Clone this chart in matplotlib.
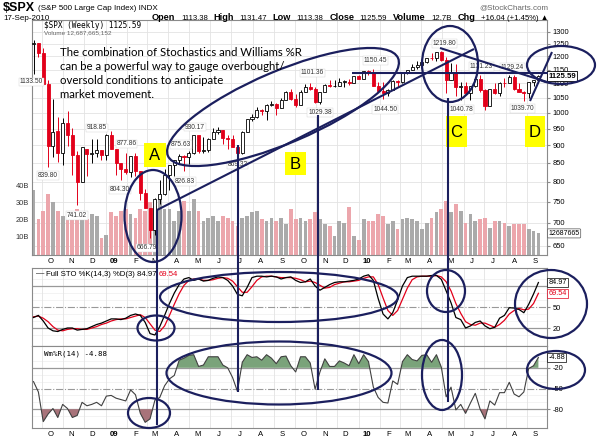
import matplotlib
matplotlib.use('Agg')
import matplotlib.pyplot as plt
import matplotlib.dates as mdates
import matplotlib.transforms as mtrans
from matplotlib.patches import Ellipse, Rectangle
import numpy as np
import pandas as pd

# ---------------- data ----------------
week_end = pd.date_range('2008-09-19', periods=105, freq='W-FRI')

opens = [1251,1255,1213,1099,899,941,877,968,930,873,
         800,889,876,879,887,872,931,890,850,832,
         826,868,827,770,735,683,756,768,816,843,
         857,870,866,877,929,882,887,919,940,946,
         921,918,896,879,940,979,987,1010,1005,1026,
         1029,1016,1042,1068,1044,1025,1071,1087,1080,1036,
         1069,1093,1091,1091,1106,1106,1102,1126,1115,1145,
         1136,1092,1074,1066,1075,1109,1104,1139,1150,1160,
         1167,1179,1194,1192,1217,1187,1111,1136,1087,1089,
         1065,1092,1117,1076,1022,1078,1065,1102,1101,1121,
         1079,1071,1065,1105,1113.38]
highs = [1265,1255,1233,1112,1044,985,984,1007,951,882,
         896,889,918.85,917,887,934,943,890,850,877,
         870,877.86,827,780,735,758,804,832,845,857,
         875.63,871,882,930.17,929,924,920,951,956,946,
         930,931,898,943,979,996,1018,1013,1027,1039,
         1031,1049,1074,1080,1063,1076,1096,1101.36,1085,1071,
         1097,1113,1111,1119,1110,1117,1127,1130,1145,1150,
         1150.45,1104,1104,1080,1112,1113,1139,1150,1170,1181,
         1182,1194,1213,1217,1219.8,1197,1174,1170,1104,1106,
         1092,1121,1131.23,1079,1078,1100,1103,1120,1128,1129.24,
         1100,1074,1105,1110,1131.47]
lows = [1133.5,1197,1099,839.8,865,852,845,899,818,741.02,
        799,815,851,866,857,857,888,818,804.3,821,
        812,814,754,734,666.79,672,743,767,779,814,
        848,826.83,847,875,878,879,880,918,934,903,
        888,896,869.32,875,940,972,982,991,978,1022,
        991,1016,1042,1042,1020,1025,1070,1075,1033,1029.38,
        1069,1085,1086,1091,1086,1095,1102,1115,1115,1131,
        1091,1071,1044.5,1056,1075,1086,1101,1132,1147,1153,
        1165,1175,1186,1183,1182,1065,1111,1056,1040.78,1064,
        1043,1088,1071,1010,1022,1064,1056,1088,1101,1076,
        1069,1039.7,1049,1091,1113.38]
closes = [1255,1213,1099,899,940,877,968,930,873,800,
          896,876,879,887,872,931,890,850,832,826,
          868,827,770,735,683,756,768,816,843,857,
          870,866,877,929,882,887,919,940,946,921,
          918,896,879,940,979,987,1010,1005,1026,1029,
          1016,1042,1068,1044,1025,1071,1087,1080,1036,1069,
          1093,1091,1091,1106,1106,1102,1126,1115,1145,1136,
          1092,1074,1066,1075,1109,1104,1139,1150,1160,1167,
          1179,1194,1192,1217,1187,1111,1136,1087,1089,1065,
          1092,1117,1076,1022,1078,1065,1102,1101,1121,1079,
          1071,1065,1105,1110,1125.59]
prev_close = 1251.7
volume_b = [38,21,26,36,31,26,23,25,23,27,
            21,21,24,23,10,12,25,23,26,27,
            24,22,27,26,31,29,33,27,27,20,
            26,32,26,33,26,20,22,23,20,23,
            22,20,17,22,23,25,26,21,20,22,
            20,22,18,27,21,22,20,21,25,21,
            18,17,11,20,19,28,11,9,21,20,
            20,24,23,18,20,15,21,22,21,20,
            15,19,22,25,27,32,25,30,26,19,
            24,20,21,22,16,20,20,19,17,18,
            18,18,15,14,12.69]
sto_k = [35,38,30,20,16,15,18,20,20,17,
         18,19,22,25,27,30,33,33,32,34,
         38,40,38,28,12,10,22,38,55,70,
         82,90,92,88,90,87,88,91,93,92,
         88,80,68,66,78,92,94,94,93,94,
         93,90,92,93,88,85,86,90,80,74,
         78,82,85,86,86,87,88,90,94,96,
         88,62,40,33,42,60,80,92,94,94,
         94,94,95,95,89.5,73,56,35,32,20,
         23,28,30,23,19,21,34,38,49,48.5,
         46.5,41.8,53.8,68.6,84.97]
sto_d = [36,37,34,29,22,17,16,18,19,19,
         18,18,20,22,25,27,30,32,33,33,
         35,37,39,35,26,17,15,23,38,54,
         69,81,88,90,90,88,88,89,91,92,
         91,87,79,71,71,79,88,93,94,94,
         93,92,92,92,91,89,86,87,85,81,
         77,78,82,84,86,86,87,88,91,93,
         93,82,63,45,38,45,61,77,89,93,
         94,94,94,95,93,86,73,55,41,29,
         25,24,27,27,24,21,25,31,40,45,
         48,46,47,55,69.54]
wpr = [-40,-55,-98,-87,-79,-92,-73,-79,-92,-89,
       -70,-75,-73,-70,-75,-61,-60,-64,-66,-68,
       -52,-59,-86,-99,-94,-67,-63,-46,-36,-31,
       -9,-6,-2,-1,-18,-16,-4,-4,-4,-16,
       -20,-34,-54,-12,-1,-5,-4,-9,-1,-6,
       -14,-4,-3,-17,-26,-4,-4,-13,-51,-26,
       -7,-18,-18,-10,-13,-17,-1,-14,-1,-11,
       -48,-63,-70,-71,-39,-44,-11,-1,-8,-10,
       -2,-1,-12,-1,-19,-62,-48,-81,-73,-86,
       -71,-57,-80,-94,-68,-74,-56,-56,-41,-58,
       -62,-55,-21,-17,-4.88]
month_labels = ['O','N','D','09','F','M','A','M','J','J','A','S',
                'O','N','D','10','F','M','A','M','J','J','A','S']
price_ticks = [650,700,750,800,850,900,950,1000,1050,1100,1150,1200,1250,1300]
volume_ticks = [10,20,30,40]
# (candle index, label, 'H' = at high / 'L' = at low, dx px, dy px)
price_notes = [(0,'1133.50','L',-2,8),(3,'839.80','L',0,9),(9,'741.02','L',0,10),
               (12,'918.85','H',5,-11),(21,'877.86','H',-9,-9),(18,'804.30','L',-1,10),
               (24,'666.79','L',-3,10),(31,'826.83','L',1,10),(30,'875.63','H',2,-9),
               (33,'930.17','H',1,-8),(42,'869.32','L',0,9),(57,'1101.36','H',2,-10),
               (59,'1029.38','L',0,9),(70,'1150.45','H',2,-9),(72,'1044.50','L',2,10),
               (84,'1219.80','H',3,-8),(88,'1040.78','L',1,9),(92,'1131.23','H',1,-8),
               (99,'1129.24','H',-2,-8),(101,'1039.70','L',-1,8)]

# ---------------- figure ----------------
W, H = 600, 443
fig = plt.figure(figsize=(6, 4.43), dpi=100, facecolor='white')

def rect(x0, y0, x1, y1):
    return [x0 / W, 1 - y1 / H, (x1 - x0) / W, (y1 - y0) / H]

RED = '#e2001a'
PINK = '#eca6ac'
GRAY = '#aaaaaa'
GRID = '#e3e3e3'
AXC = '#8a8a8a'
NAVY = '#1b1f5e'
SANS = 'Liberation Sans'

xd = mdates.date2num(week_end)
xlim = (xd[0] - 2.2, xd[-1] + 12.4)
month_starts = mdates.date2num(pd.date_range('2008-10-01', '2010-09-01', freq='MS'))
label_pos = month_starts + 12

O = np.array(opens, float); Hh = np.array(highs, float)
L = np.array(lows, float); C = np.array(closes, float)
prevC = np.concatenate([[prev_close], C[:-1]])
down = C < prevC
col = np.where(down, RED, 'black')

def style_axes(ax):
    for s in ax.spines.values():
        s.set_color(AXC); s.set_linewidth(0.8)
    ax.set_xlim(*xlim)
    ax.set_xticks(month_starts)
    ax.set_xticklabels([])
    ax.tick_params(axis='x', which='major', length=0)
    ax.grid(True, axis='x', which='major', color=GRID, lw=0.6, zorder=0)
    ax.set_axisbelow(True)

def month_axis(ax, show):
    ax.set_xticks(label_pos, minor=True)
    if show:
        ax.set_xticklabels(month_labels, minor=True)
        for t in ax.get_xticklabels(minor=True):
            t.set_fontsize(5.6); t.set_family(SANS)
            if t.get_text().isdigit():
                t.set_fontweight('bold')
    else:
        ax.set_xticklabels([], minor=True)
    ax.tick_params(axis='x', which='minor', length=0, pad=2)

# ---- price + volume panel ----
ax_p = fig.add_axes(rect(32, 20, 547, 255))
style_axes(ax_p)
ax_p.set_yscale('log')
ax_p.set_ylim(630.8, 1350)
ax_p.set_autoscale_on(False)
ax_p.yaxis.tick_right()
ax_p.yaxis.set_minor_locator(plt.NullLocator())
ax_p.set_yticks(price_ticks)
ax_p.set_yticklabels([str(v) for v in price_ticks])
ax_p.tick_params(axis='y', labelsize=5.4, length=2, color=AXC, pad=2)
for t in ax_p.get_yticklabels():
    t.set_family(SANS)
ax_p.grid(True, axis='y', which='major', color=GRID, lw=0.6)
month_axis(ax_p, True)

VMAX = 138.0
vt = mtrans.blended_transform_factory(ax_p.transData, ax_p.transAxes)
for x, v, d in zip(xd, volume_b, down):
    ax_p.add_patch(Rectangle((x - 2.7, 0), 5.4, v / VMAX, transform=vt,
                             fc=PINK if d else GRAY, ec='none', zorder=1))
lt = mtrans.blended_transform_factory(ax_p.transAxes, ax_p.transAxes)
for v in volume_ticks:
    ax_p.text(-0.006, v / VMAX, f'{v}B', transform=lt, ha='right', va='center',
              fontsize=5.4, family=SANS, color='#333333')

ax_p.vlines(xd, L, Hh, colors=col, lw=0.7, zorder=3)
body_bot = np.minimum(O, C)
body_h = np.maximum(np.abs(C - O), 0.8)
face = [c if cl < op else 'white' for c, op, cl in zip(col, O, C)]
ax_p.bar(xd, body_h, bottom=body_bot, width=4.4, color=face, edgecolor=col,
         linewidth=0.6, zorder=4)

for i, txt, where, dx, dy in price_notes:
    yv = Hh[i] if where == 'H' else L[i]
    ax_p.annotate(txt, (xd[i], yv), xytext=(dx / 1.389, -dy / 1.389),
                  textcoords='offset points', ha='center', va='center',
                  fontsize=4.8, family=SANS, color='#333333', zorder=6,
                  annotation_clip=False,
                  bbox=dict(boxstyle='square,pad=0.12', fc='white', ec='#cfcfcf', lw=0.3))

rt = mtrans.blended_transform_factory(ax_p.transAxes, ax_p.transData)
ax_p.text(1.003, closes[-1], f'{closes[-1]:.2f}', transform=rt, ha='left', va='center',
          fontsize=5.6, family=SANS, fontweight='bold', zorder=7,
          bbox=dict(boxstyle='square,pad=0.15', fc='white', ec='black', lw=0.6))
ax_p.text(1.003, volume_b[-1] / VMAX, '12687665', transform=lt, ha='left', va='center',
          fontsize=5.0, family=SANS, zorder=7,
          bbox=dict(boxstyle='round,pad=0.15', fc='white', ec='#555555', lw=0.5))

# ---- stochastic panel ----
ax_s = fig.add_axes(rect(32, 268, 547, 346))
style_axes(ax_s)
ax_s.set_ylim(-5.7, 105.7)
for yv in [10, 30, 40, 60, 70, 90]:
    ax_s.axhline(yv, color='#eeeeee', lw=0.5, zorder=0)
ax_s.axhline(80, color='#999999', lw=0.9, zorder=1)
ax_s.axhline(20, color='#999999', lw=0.9, zorder=1)
ax_s.axhline(50, color='#999999', lw=0.8, ls='-.', zorder=1)
ax_s.plot(xd, sto_d, color=RED, lw=0.9, zorder=3)
ax_s.plot(xd, sto_k, color='black', lw=0.9, zorder=4)
ax_s.yaxis.tick_right()
ax_s.set_yticks([20, 50])
ax_s.set_yticklabels(['20', '50'])
ax_s.tick_params(axis='y', labelsize=5.4, length=2, color=AXC, pad=2)
month_axis(ax_s, False)
st = mtrans.blended_transform_factory(ax_s.transAxes, ax_s.transData)
ax_s.text(1.003, sto_k[-1], f'{sto_k[-1]:.2f}', transform=st, ha='left', va='center',
          fontsize=5.2, family=SANS, zorder=7,
          bbox=dict(boxstyle='square,pad=0.15', fc='white', ec='black', lw=0.5))
ax_s.text(1.003, sto_d[-1], f'{sto_d[-1]:.2f}', transform=st, ha='left', va='center',
          fontsize=5.2, family=SANS, color=RED, zorder=7,
          bbox=dict(boxstyle='square,pad=0.15', fc='white', ec=RED, lw=0.5))

# ---- Williams %R panel ----
ax_w = fig.add_axes(rect(32, 346, 547, 428))
style_axes(ax_w)
ax_w.set_ylim(-107.2, 11.6)
for yv in [-10, -30, -40, -60, -70, -90]:
    ax_w.axhline(yv, color='#eeeeee', lw=0.5, zorder=0)
ax_w.axhline(-20, color='#999999', lw=0.9, zorder=1)
ax_w.axhline(-80, color='#999999', lw=0.9, zorder=1)
ax_w.axhline(-50, color='#999999', lw=0.8, ls='-.', zorder=1)
wa = np.array(wpr, float)
ax_w.fill_between(xd, wa, -20, where=wa > -20, interpolate=True, color='#7aa37a', lw=0, zorder=2)
ax_w.fill_between(xd, wa, -80, where=wa < -80, interpolate=True, color='#a8737a', lw=0, zorder=2)
ax_w.plot(xd, wa, color='#404040', lw=0.8, zorder=3)
ax_w.yaxis.tick_right()
ax_w.set_yticks([-20, -50, -80])
ax_w.set_yticklabels(['-20', '-50', '-80'])
ax_w.tick_params(axis='y', labelsize=5.4, length=2, color=AXC, pad=2)
month_axis(ax_w, True)
wt = mtrans.blended_transform_factory(ax_w.transAxes, ax_w.transData)
ax_w.text(1.003, wpr[-1], f'{wpr[-1]:.2f}', transform=wt, ha='left', va='center',
          fontsize=5.2, family=SANS, zorder=7,
          bbox=dict(boxstyle='square,pad=0.15', fc='white', ec='black', lw=0.5))
for ax in (ax_s, ax_w):
    for t in ax.get_yticklabels():
        t.set_family(SANS)

# ---------------- texts ----------------
R = fig.canvas.get_renderer()

def place_seq(parts, x, y, align='left', gap=2.0):
    texts, widths = [], []
    for s, kw in parts:
        t = fig.text(0, 1 - y / H, s, va='center', ha='left', **kw)
        texts.append(t)
        widths.append(t.get_window_extent(renderer=R).width)
    total = sum(widths) + gap * (len(parts) - 1)
    if align == 'right':
        x = x - total
    for t, w in zip(texts, widths):
        t.set_x(x / W)
        x += w + gap

place_seq([('$SPX', dict(fontsize=9, fontweight='bold', family=SANS)),
           ('(S&P 500 Large Cap Index) INDX', dict(fontsize=5.8, family=SANS))], 3, 8, gap=3)
fig.text(548 / W, 1 - 8 / H, '@StockCharts.com', ha='right', va='center',
         fontsize=5.8, family=SANS, color='#666666')
fig.text(3 / W, 1 - 18 / H, '17-Sep-2010', ha='left', va='center', fontsize=5.8, family=SANS)
b = dict(fontsize=6.6, fontweight='bold', family=SANS)
n = dict(fontsize=5.6, family=SANS)
place_seq([('Open', b), ('1113.38', n), ('High', b), ('1131.47', n), ('Low', b),
           ('1113.38', n), ('Close', b), ('1125.59', n), ('Volume', b), ('12.7B', n),
           ('Chg', b), ('+16.04 (+1.45%) \u25b2', n)], 548, 18, align='right', gap=5.6)

mono = 'DejaVu Sans Mono'
fig.text(44 / W, 1 - 26 / H, '$SPX (Weekly) 1125.59', ha='left', va='center',
         fontsize=5.6, family=mono)
fig.text(44 / W, 1 - 33 / H, 'Volume 12,687,665,152', ha='left', va='center',
         fontsize=4.6, family=SANS, color='#666666')
place_seq([('\u2014', dict(fontsize=6, family=SANS)),
           ('Full STO %K(14,3) %D(3) 84.97', dict(fontsize=5.6, family=SANS)),
           ('69.54', dict(fontsize=5.6, family=SANS, color=RED))], 36, 274, gap=2)
fig.text(44 / W, 1 - 354 / H, 'Wm%R(14) -4.88', ha='left', va='center',
         fontsize=5.4, family=mono)

# ---------------- hand-drawn annotations ----------------
ov = fig.add_axes([0, 0, 1, 1], zorder=20)
ov.set_xlim(0, W); ov.set_ylim(H, 0); ov.axis('off')

note = ['The combination of Stochastics and Williams %R',
        'can be a powerful way to gauge overbought/',
        'oversold conditions to anticipate',
        'market movement.']
for k, line in enumerate(note):
    ov.text(60, 52 + k * 14.3, line, fontsize=8.2, family='Lato', va='center', ha='left')

ells = [((153, 216), 57, 92, 0), ((283, 107), 250, 72, -23), ((450, 64), 56, 76, 0),
        ((561, 65), 68, 38, 0), ((279, 297), 238, 50, 0), ((156, 328), 37, 25, 0),
        ((446, 291), 38, 42, 0), ((551, 304), 72, 68, 0), ((279, 373), 225, 63, 0),
        ((149, 413), 42, 30, 0), ((442, 375), 40, 70, 0), ((556, 370), 58, 38, 0)]
for c, w, h, a in ells:
    ov.add_patch(Ellipse(c, w, h, angle=a, fill=False, ec=NAVY, lw=1.6))
segs = [((157, 210), (474, 49)), ((352, 73), (548, 73)), ((440, 48), (547, 82)),
        ((530, 101), (552, 52)), ((157, 210), (157, 425)), ((237.5, 145), (237.5, 392)),
        ((318, 115), (318, 390)), ((448, 98), (448, 402))]
for (x0, y0), (x1, y1) in segs:
    ov.plot([x0, x1], [y0, y1], color=NAVY, lw=1.5, solid_capstyle='butt')

boxes = [('A', 144, 143, 166, 167), ('B', 285, 152, 306, 175),
         ('C', 446, 116, 467, 147), ('D', 525, 116, 545, 147)]
for s, x0, y0, x1, y1 in boxes:
    ov.add_patch(Rectangle((x0, y0), x1 - x0, y1 - y0, fc='#ffff00', ec='none'))
    ov.text((x0 + x1) / 2, (y0 + y1) / 2 + 1, s, ha='center', va='center',
            fontsize=12, family=SANS)

fig.savefig('out.png', dpi=100, facecolor='white')
